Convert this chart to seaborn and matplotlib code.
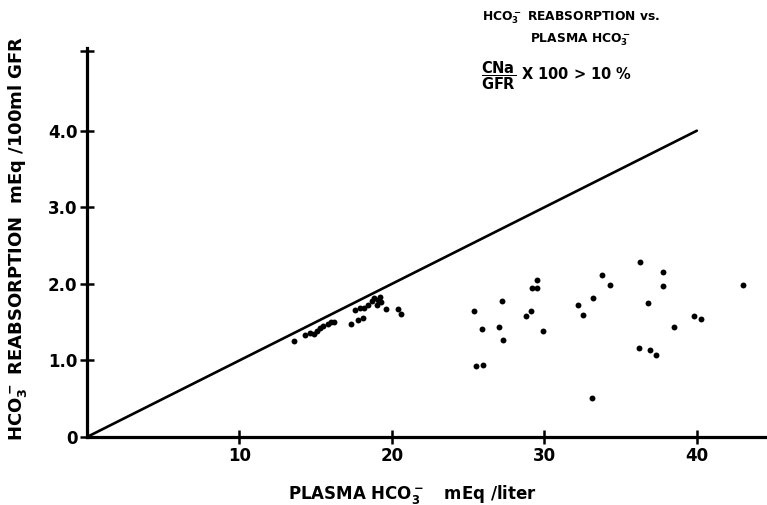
import matplotlib
matplotlib.use("Agg")
import pandas as pd
import seaborn as sns
from matplotlib import pyplot as plt

# plasma HCO3- (mEq/liter) and HCO3- reabsorption (mEq/100ml GFR)
plasma_hco3 = [13.6, 14.3, 14.6, 14.9, 15.1, 15.3, 15.5, 15.8, 16.0, 16.2,
               17.3, 17.8, 18.1, 17.6, 17.9, 18.2, 18.4, 18.7, 18.8, 19.1,
               19.2, 19.3, 19.0, 19.6, 20.4, 20.6,
               25.4, 25.9, 25.5, 26.0, 27.2, 27.0, 27.3, 29.5, 29.2, 29.5,
               29.1, 28.8, 29.9, 32.2, 32.5, 33.2, 33.8, 34.3, 33.1, 36.3,
               37.8, 37.8, 36.8, 38.5, 36.2, 36.9, 37.3, 39.8, 40.3, 43.0]
reabsorption = [1.25, 1.33, 1.36, 1.34, 1.38, 1.42, 1.45, 1.48, 1.50, 1.50,
                1.48, 1.53, 1.56, 1.66, 1.69, 1.69, 1.73, 1.77, 1.81, 1.79,
                1.83, 1.76, 1.72, 1.67, 1.67, 1.61,
                1.64, 1.41, 0.93, 0.94, 1.78, 1.44, 1.27, 2.05, 1.94, 1.94,
                1.64, 1.58, 1.39, 1.73, 1.59, 1.81, 2.12, 1.98, 0.51, 2.29,
                2.15, 1.97, 1.75, 1.43, 1.16, 1.13, 1.07, 1.58, 1.54, 1.99]

# reference line (filtered load)
line_x = [0, 40]
line_y = [0, 4.0]

x_ticks = [10, 20, 30, 40]
y_ticks = [0, 1, 2, 3, 4]
y_tick_labels = ["0", "1.0", "2.0", "3.0", "4.0"]

sns.set_style("ticks")
plt.rcParams["font.family"] = ["DejaVu Sans"]
plt.rcParams["font.weight"] = "bold"
plt.rcParams["mathtext.default"] = "bf"
plt.rcParams["text.color"] = "black"
plt.rcParams["axes.labelcolor"] = "black"
plt.rcParams["xtick.color"] = "black"
plt.rcParams["ytick.color"] = "black"

df = pd.DataFrame({"plasma": plasma_hco3, "reab": reabsorption})
lines = pd.DataFrame({"x": line_x, "y": line_y})

fig = plt.figure(figsize=(7.67, 5.05), dpi=100)
ax = fig.add_axes([87 / 767, 68 / 505, 680 / 767, 389 / 505])

sns.lineplot(data=lines, x="x", y="y", color="black", linewidth=1.9, ax=ax)
sns.scatterplot(data=df, x="plasma", y="reab", color="black", s=18,
                edgecolor="black", linewidth=0, ax=ax, zorder=3)

ax.set_xlim(0, 44.6)
ax.set_ylim(0, 5.08)
ax.set_xticks(x_ticks)
ax.set_xticklabels([str(t) for t in x_ticks], fontsize=12, fontweight="bold")
ax.set_yticks(y_ticks + [5.04])
ax.set_yticklabels(y_tick_labels + [""], fontsize=12, fontweight="bold")
ax.tick_params(axis="both", direction="inout", length=10, width=1.8,
               color="black", pad=2, bottom=True, left=True)

for side in ["top", "right"]:
    ax.spines[side].set_visible(False)
for side in ["left", "bottom"]:
    ax.spines[side].set_linewidth(2.3)
    ax.spines[side].set_color("black")

ax.set_xlabel(r"PLASMA HCO$_3^-$   mEq /liter", fontsize=12, fontweight="bold")
ax.xaxis.set_label_coords(0.479, -0.118)
ax.set_ylabel("")
fig.text(18 / 767, 1 - 238 / 505, r"HCO$_3^-$ REABSORPTION  mEq /100ml GFR",
         fontsize=13, fontweight="bold", rotation=90, ha="center", va="center")

fig.text(482 / 767, 1 - 18 / 505, r"HCO$_3^-$ REABSORPTION vs.", fontsize=8.8,
         fontweight="bold", va="center")
fig.text(530 / 767, 1 - 40 / 505, r"PLASMA HCO$_3^-$", fontsize=8.8,
         fontweight="bold", va="center")
fig.text(481 / 767, 1 - 76 / 505, r"$\dfrac{CNa}{GFR}$ X 100 > 10 %", fontsize=10.5,
         fontweight="bold", va="center")

fig.savefig("out.png", dpi=100, facecolor="white")
